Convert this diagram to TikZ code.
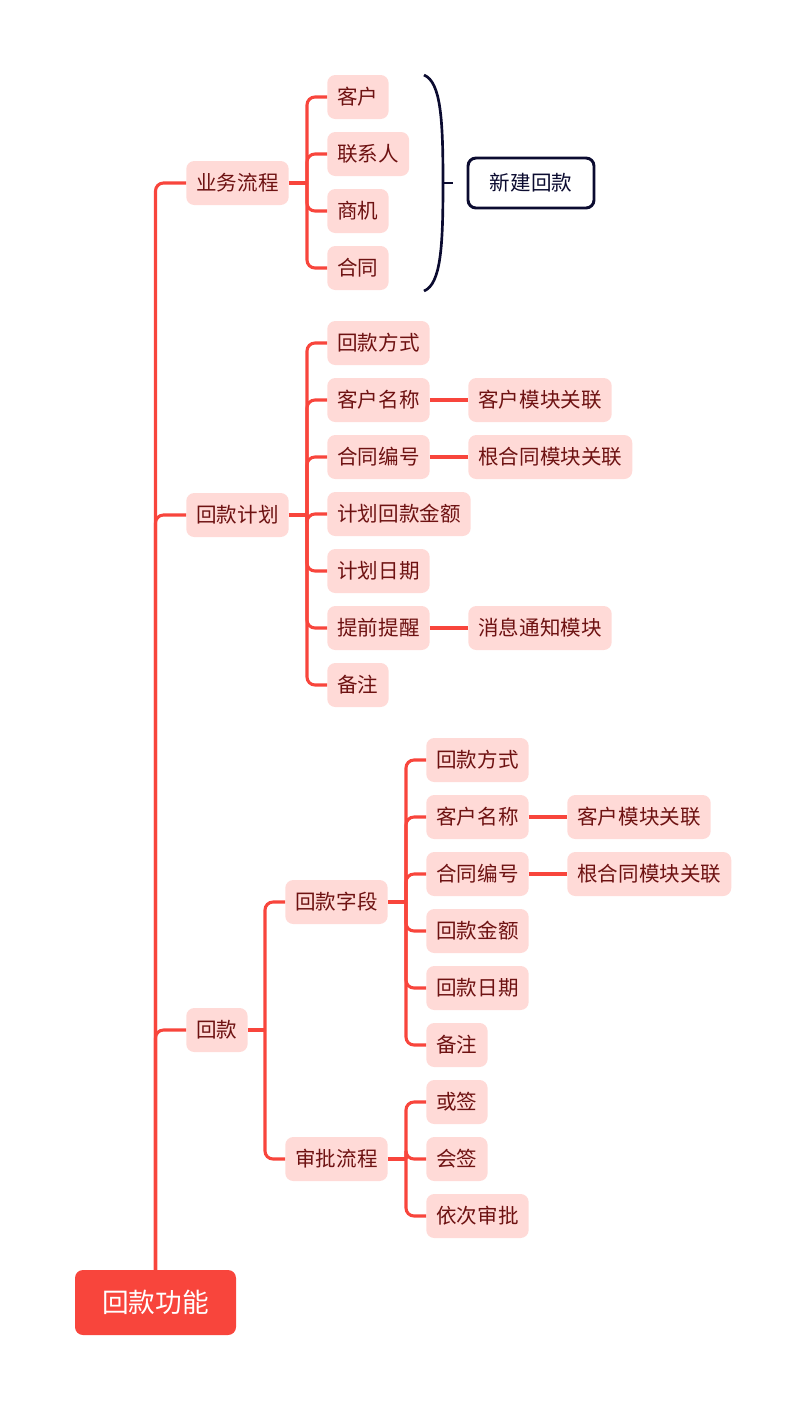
\documentclass[tikz,border=0pt]{standalone}
\usepackage{fontspec}
\setmainfont{Noto Sans CJK SC}
\definecolor{lnred}{HTML}{F8453C}
\definecolor{pinkf}{HTML}{FFDAD7}
\definecolor{txtred}{HTML}{6E1212}
\definecolor{navy}{HTML}{0B0B30}
\begin{document}
\begin{tikzpicture}[x=0.75pt,y=-0.75pt,
  tnode/.style={fill=pinkf,text=txtred,rounded corners=6pt,minimum height=33pt,inner xsep=7.6pt,inner ysep=0pt,anchor=west,font=\fontsize{15.4pt}{18pt}\selectfont},
  conn/.style={draw=lnred,line width=2.3pt,rounded corners=6pt},
  rootn/.style={fill=lnred,text=white,rounded corners=6pt,minimum width=120.75pt,minimum height=48.75pt,font=\fontsize{20pt}{22pt}\selectfont},
  boxn/.style={draw=navy,line width=2.2pt,fill=white,text=navy,rounded corners=6pt,minimum width=94.5pt,minimum height=37.5pt,font=\fontsize{15.4pt}{18pt}\selectfont}
]
\useasboundingbox (0,0) rectangle (807,1411);
% root
\node[rootn] (root) at (155.5,1302.5) {回款功能};
% level 1
\node[tnode] (a) at (186,183) {业务流程};
\node[tnode] (b) at (186,515) {回款计划};
\node[tnode] (c) at (186,1030) {回款};
\foreach \n in {a,b,c} \draw[conn] (root.north) |- (\n.west);
% group a
\node[tnode] (a1) at (327,97) {客户};
\node[tnode] (a2) at (327,154) {联系人};
\node[tnode] (a3) at (327,211) {商机};
\node[tnode] (a4) at (327,268) {合同};
\coordinate (ja) at (307,183);
\draw[conn] (a.east) -- (ja);
\foreach \n in {a1,a2,a3,a4} \draw[conn] (ja) |- (\n.west);
% brace
\coordinate (bt) at (424,75);
\coordinate (bm) at (443,183);
\coordinate (bb) at (424,291);
\coordinate (bk) at (453,183);
\draw[navy,line width=2pt] (bt) .. controls (441,82) and (443,120) .. (bm) .. controls (443,246) and (441,284) .. (bb);
\draw[navy,line width=2pt] (bm) -- (bk);
\node[boxn] (nb) at (531,183) {新建回款};
% group b
\node[tnode] (b1) at (327,343) {回款方式};
\node[tnode] (b2) at (327,400) {客户名称};
\node[tnode] (b3) at (327,457) {合同编号};
\node[tnode] (b4) at (327,514) {计划回款金额};
\node[tnode] (b5) at (327,571) {计划日期};
\node[tnode] (b6) at (327,628) {提前提醒};
\node[tnode] (b7) at (327,685) {备注};
\coordinate (jb) at (307,515);
\draw[conn] (b.east) -- (jb);
\foreach \n in {b1,b2,b3,b4,b5,b6,b7} \draw[conn] (jb) |- (\n.west);
\node[tnode] (b2x) at (468,400) {客户模块关联};
\node[tnode] (b3x) at (468,457) {根合同模块关联};
\node[tnode] (b6x) at (468,628) {消息通知模块};
\draw[conn] (b2.east) -- (b2x.west);
\draw[conn] (b3.east) -- (b3x.west);
\draw[conn] (b6.east) -- (b6x.west);
% group c
\node[tnode] (c1) at (285,902) {回款字段};
\node[tnode] (c2) at (285,1159) {审批流程};
\coordinate (jc) at (265,1030);
\draw[conn] (c.east) -- (jc);
\foreach \n in {c1,c2} \draw[conn] (jc) |- (\n.west);
\node[tnode] (d1) at (426,760) {回款方式};
\node[tnode] (d2) at (426,817) {客户名称};
\node[tnode] (d3) at (426,874) {合同编号};
\node[tnode] (d4) at (426,931) {回款金额};
\node[tnode] (d5) at (426,988) {回款日期};
\node[tnode] (d6) at (426,1045) {备注};
\coordinate (jd) at (406,902);
\draw[conn] (c1.east) -- (jd);
\foreach \n in {d1,d2,d3,d4,d5,d6} \draw[conn] (jd) |- (\n.west);
\node[tnode] (d2x) at (567,817) {客户模块关联};
\node[tnode] (d3x) at (567,874) {根合同模块关联};
\draw[conn] (d2.east) -- (d2x.west);
\draw[conn] (d3.east) -- (d3x.west);
\node[tnode] (e1) at (426,1102) {或签};
\node[tnode] (e2) at (426,1159) {会签};
\node[tnode] (e3) at (426,1216) {依次审批};
\coordinate (je) at (406,1159);
\draw[conn] (c2.east) -- (je);
\foreach \n in {e1,e2,e3} \draw[conn] (je) |- (\n.west);
\end{tikzpicture}
\end{document}
